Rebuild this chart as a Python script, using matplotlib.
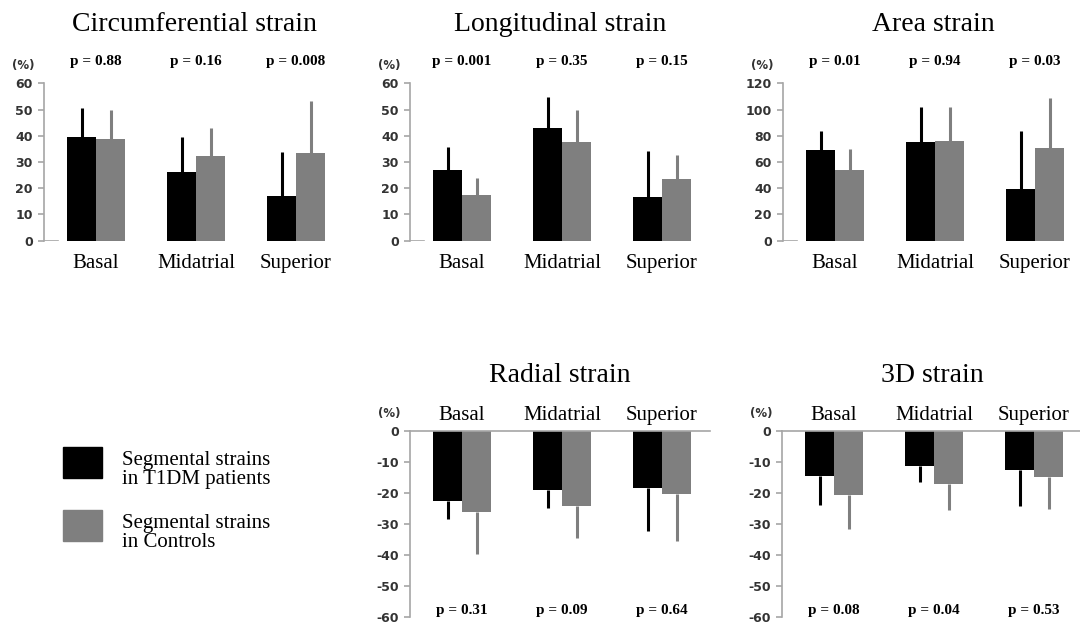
import numpy as np
import matplotlib
matplotlib.use('Agg')
import matplotlib.pyplot as plt
from matplotlib.patches import Rectangle

plt.rcParams['axes.unicode_minus'] = False

# segment names and group labels
segments = ['Basal', 'Midatrial', 'Superior']
group_labels = ['Segmental strains\nin T1DM patients', 'Segmental strains\nin Controls']

# mean and SD per segment
circ_t1dm = [39.5, 26.0, 17.2]
circ_t1dm_sd = [11.2, 13.4, 16.5]
circ_ctrl = [38.7, 32.2, 33.4]
circ_ctrl_sd = [11.3, 10.8, 19.8]
circ_p = ['p = 0.88', 'p = 0.16', 'p = 0.008']

long_t1dm = [27.0, 42.9, 16.8]
long_t1dm_sd = [8.9, 11.8, 17.4]
long_ctrl = [17.4, 37.8, 23.4]
long_ctrl_sd = [6.6, 12.1, 9.3]
long_p = ['p = 0.001', 'p = 0.35', 'p = 0.15']

area_t1dm = [69.2, 75.0, 39.4]
area_t1dm_sd = [14.7, 26.7, 44.5]
area_ctrl = [53.7, 76.3, 70.5]
area_ctrl_sd = [16.0, 25.4, 38.5]
area_p = ['p = 0.01', 'p = 0.94', 'p = 0.03']

rad_t1dm = [-22.5, -19.1, -18.3]
rad_t1dm_sd = [6.0, 5.7, 14.0]
rad_ctrl = [-26.2, -24.1, -20.5]
rad_ctrl_sd = [13.4, 10.5, 14.9]
rad_p = ['p = 0.31', 'p = 0.09', 'p = 0.64']

d3_t1dm = [-14.6, -11.3, -12.5]
d3_t1dm_sd = [9.2, 5.2, 11.7]
d3_ctrl = [-20.6, -17.2, -15.0]
d3_ctrl_sd = [11.1, 8.4, 10.1]
d3_p = ['p = 0.08', 'p = 0.04', 'p = 0.53']

BLACK = '#000000'
GREY = '#7f7f7f'
AXCOL = '#a6a6a6'
SERIF = 'Liberation Serif'
SANS = 'DejaVu Sans'

W, H = 1080, 625
fig = plt.figure(figsize=(W / 100, H / 100), dpi=100)
fig.patch.set_facecolor('white')


def px_axes(left, top, bottom, width=300):
    return fig.add_axes([left / W, 1 - bottom / H, width / W, (bottom - top) / H])


def draw_panel(ax, title, t1, t1sd, ct, ctsd, pvals, negative, ylim, step):
    x = np.arange(len(segments))
    bw = 0.29
    ax.bar(x - bw / 2, t1, width=bw, color=BLACK, zorder=2)
    ax.bar(x + bw / 2, ct, width=bw, color=GREY, zorder=2)
    zeros = np.zeros(len(x))
    if negative:
        e1, e2 = [t1sd, zeros], [ctsd, zeros]
    else:
        e1, e2 = [zeros, t1sd], [zeros, ctsd]
    ax.errorbar(x - bw / 2, t1, yerr=e1, fmt='none', ecolor=BLACK, elinewidth=2.2, capsize=0, zorder=3)
    ax.errorbar(x + bw / 2, ct, yerr=e2, fmt='none', ecolor=GREY, elinewidth=2.2, capsize=0, zorder=3)

    ax.set_xlim(-0.52, 2.48)
    ax.set_ylim(*ylim)
    lo, hi = ylim
    ax.set_yticks(np.arange(lo, hi + step / 2, step))
    ax.set_xticks([])
    for s in ['right', 'bottom', 'top']:
        ax.spines[s].set_visible(False)
    ax.spines['left'].set_color(AXCOL)
    ax.spines['left'].set_linewidth(1.2)
    ax.tick_params(axis='y', direction='out', length=4, width=1.2, color=AXCOL, pad=4)
    for lab in ax.get_yticklabels():
        lab.set_fontfamily(SANS)
        lab.set_fontweight('bold')
        lab.set_fontsize(9)
        lab.set_color('#333333')
    ax.set_facecolor('none')

    if negative:
        ax.spines['top'].set_visible(True)
        ax.spines['top'].set_color(AXCOL)
        ax.spines['top'].set_linewidth(1.2)
        title_y, cat_y, p_y, pct_y = 1.26, 1.06, 0.015, 1.095
    else:
        ax.axhline(0, xmin=0, xmax=0.045, color=AXCOL, lw=1.2)
        title_y, cat_y, p_y, pct_y = 1.332, -0.175, 1.116, 1.11

    tr = ax.get_xaxis_transform()
    ax.text(0.5, title_y, title, transform=ax.transAxes, ha='center', va='baseline',
            fontsize=20, family=SERIF)
    for xi, seg, pv in zip(x, segments, pvals):
        ax.text(xi, cat_y, seg, transform=tr, ha='center', va='baseline',
                fontsize=15, family=SERIF)
        ax.text(xi, p_y, pv, transform=tr, ha='center', va='baseline',
                fontsize=11, family=SERIF, fontweight='bold')
    ax.text(-0.73, pct_y, '(%)', transform=tr, ha='center', va='center',
            fontsize=8.5, family=SANS, fontweight='bold', color='#333333')


ax1 = px_axes(44, 83.3, 240.7)
draw_panel(ax1, 'Circumferential strain', circ_t1dm, circ_t1dm_sd, circ_ctrl, circ_ctrl_sd,
           circ_p, False, (0, 60), 10)
ax2 = px_axes(410, 83.3, 240.7)
draw_panel(ax2, 'Longitudinal strain', long_t1dm, long_t1dm_sd, long_ctrl, long_ctrl_sd,
           long_p, False, (0, 60), 10)
ax3 = px_axes(783, 83.3, 240.7)
draw_panel(ax3, 'Area strain', area_t1dm, area_t1dm_sd, area_ctrl, area_ctrl_sd,
           area_p, False, (0, 120), 20)
ax4 = px_axes(410, 430.7, 617)
draw_panel(ax4, 'Radial strain', rad_t1dm, rad_t1dm_sd, rad_ctrl, rad_ctrl_sd,
           rad_p, True, (-60, 0), 10)
ax5 = px_axes(782, 430.7, 617)
draw_panel(ax5, '3D strain', d3_t1dm, d3_t1dm_sd, d3_ctrl, d3_ctrl_sd,
           d3_p, True, (-60, 0), 10)

# legend, drawn by hand
for (top, col, lab) in [(447, BLACK, group_labels[0]), (510, GREY, group_labels[1])]:
    fig.patches.append(Rectangle((63 / W, 1 - (top + 31) / H), 39 / W, 31 / H,
                                 transform=fig.transFigure, color=col))
    fig.text(122 / W, 1 - (top + 23) / H, lab, ha='left', va='center',
             fontsize=15, family=SERIF, linespacing=1.0)

fig.savefig('out.png', dpi=100)
